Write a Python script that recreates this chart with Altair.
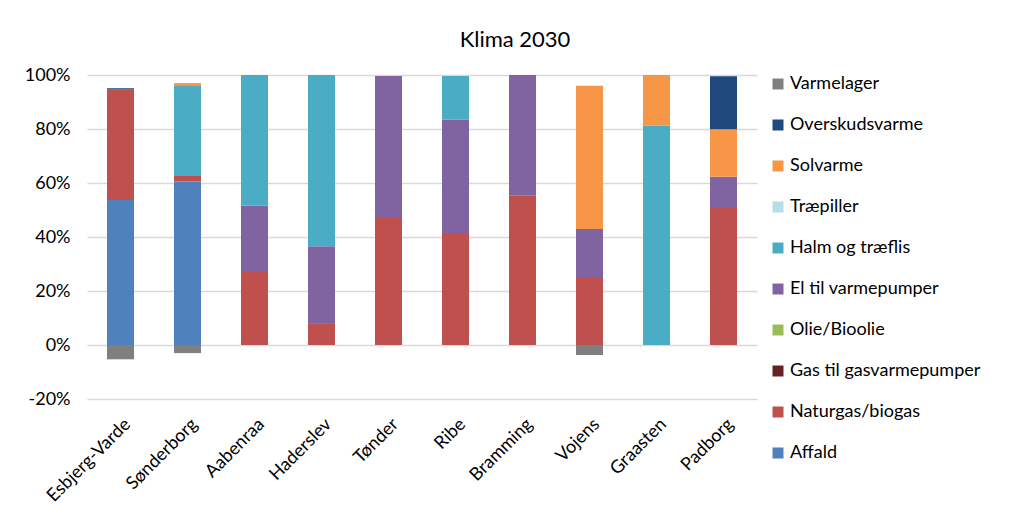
import altair as alt
import pandas as pd

cities = ["Esbjerg-Varde", "Sønderborg", "Aabenraa", "Haderslev", "Tønder",
          "Ribe", "Bramming", "Vojens", "Graasten", "Padborg"]

# percentage shares per series (per city, same order as cities)
affald          = [53.7, 60.5, 0, 0, 0, 0, 0, 0, 0, 0]
naturgas        = [41.0, 2.1, 27.0, 8.1, 47.0, 41.5, 55.5, 25.2, 0, 51.1]
gas_varmepumper = [0, 0, 0, 0, 0, 0, 0, 0, 0, 0]
olie            = [0, 0, 0, 0, 0, 0, 0, 0, 0, 0]
el_varmepumper  = [0, 0, 24.7, 28.5, 52.6, 41.9, 44.5, 17.8, 0, 11.2]
halm            = [0, 33.3, 48.3, 63.4, 0, 16.2, 0, 0, 81.2, 0]
traepiller      = [0, 0, 0, 0, 0, 0, 0, 0, 0, 0]
solvarme        = [0, 1.1, 0, 0, 0, 0, 0, 53.0, 18.8, 17.6]
overskudsvarme  = [0.4, 0, 0, 0, 0, 0, 0, 0, 0, 19.6]
varmelager      = [-5.3, -3.0, 0, 0, 0, 0, 0, -3.7, 0, 0]

# stacking order bottom -> top
series_names = ["Affald", "Naturgas/biogas", "Gas til gasvarmepumper", "Olie/Bioolie",
                "El til varmepumper", "Halm og træflis", "Træpiller", "Solvarme",
                "Overskudsvarme", "Varmelager"]
series_values = [affald, naturgas, gas_varmepumper, olie, el_varmepumper, halm,
                 traepiller, solvarme, overskudsvarme, varmelager]
series_colors = ["#4F81BD", "#C0504D", "#632523", "#9BBB59", "#8064A2", "#4BACC6",
                 "#B7DEE8", "#F79646", "#1F497D", "#7F7F7F"]

rows = []
for i, (name, vals) in enumerate(zip(series_names, series_values)):
    for city, v in zip(cities, vals):
        rows.append({"city": city, "series": name, "value": v / 100.0, "order": i})
df = pd.DataFrame(rows)

legend_order = list(reversed(series_names))
legend_colors = list(reversed(series_colors))

FONT = "Lato"

chart = alt.Chart(df).mark_bar(size=27).encode(
    x=alt.X("city:N", sort=cities, title=None,
            scale=alt.Scale(paddingInner=0.6, paddingOuter=0.3),
            axis=alt.Axis(labelAngle=315, labelFontSize=18, labelColor="#000000",
                          labelFont=FONT, domain=False, ticks=False, labelPadding=16,
                          labelOffset=1, labelLimit=300)),
    y=alt.Y("value:Q", stack="zero", title=None,
            scale=alt.Scale(domain=[-0.2, 1.0], nice=False),
            axis=alt.Axis(values=[-0.2, 0, 0.2, 0.4, 0.6, 0.8, 1.0],
                          labelExpr="replace(format(datum.value, '.0%'), '\u2212', '-')",
                          labelFontSize=18, labelColor="#000000", labelFont=FONT,
                          domain=False, ticks=False, labelPadding=17,
                          gridColor="#D9D9D9", gridWidth=1.3)),
    color=alt.Color("series:N",
                    scale=alt.Scale(domain=legend_order, range=legend_colors),
                    legend=alt.Legend(title=None, orient="none", legendX=682, legendY=0,
                                      symbolType="square", symbolSize=121,
                                      symbolStrokeWidth=0, labelFontSize=18,
                                      labelFont=FONT, labelColor="#000000",
                                      labelLimit=300, rowPadding=23, labelOffset=3)),
    order=alt.Order("order:Q"),
).properties(
    width=670, height=324,
    title=alt.TitleParams("Klima 2030", fontSize=22, font=FONT, fontWeight="normal",
                          color="#000000", offset=14, dx=93),
    autosize=alt.AutoSizeParams(type="none"),
    padding={"left": 79, "top": 67, "right": 260, "bottom": 112},
).configure_view(stroke=None)

chart.save("out.html", embed_options={"renderer": "svg", "actions": False})
